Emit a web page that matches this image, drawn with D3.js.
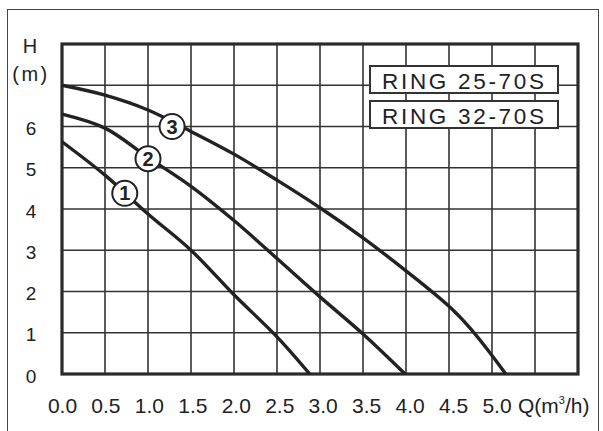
<!DOCTYPE html>
<html><head><meta charset="utf-8">
<script src="https://cdn.jsdelivr.net/npm/d3@7"></script>
<style>body{margin:0;background:#fff}svg{display:block}text{font-family:"Liberation Sans",Arial,sans-serif;fill:#222}</style>
</head><body><svg id="c" width="603" height="431"></svg>
<script>
const xTicks = ["0.0","0.5","1.0","1.5","2.0","2.5","3.0","3.5","4.0","4.5","5.0"];
const yTicks = ["0","1","2","3","4","5","6"];
const legendLabels = ["RING 25-70S","RING 32-70S"];
const curve1Q = [0,0.5,1.0,1.5,2.0,2.5,2.88];
const curve1H = [5.63,4.82,3.88,3.0,1.92,0.9,0];
const curve2Q = [0,0.5,1.0,1.5,2.0,2.5,3.0,3.5,3.99];
const curve2H = [6.3,5.96,5.25,4.55,3.72,2.8,1.87,0.97,0];
const curve3Q = [0,0.5,1.0,1.5,2.0,2.5,3.0,3.5,4.0,4.5,4.75,5.0,5.16];
const curve3H = [7.0,6.76,6.4,5.88,5.33,4.7,4.03,3.3,2.5,1.64,1.1,0.45,0];
const curveNames = ["1","2","3"];
const labelQ = [0.73,1.00,1.28];
const labelH = [4.38,5.22,6.0];

const svg = d3.select("#c");
const x = d3.scaleLinear().domain([0,6]).range([62,578]);
const y = d3.scaleLinear().domain([0,8]).range([374,44]);

// outer frame
svg.append("rect").attr("x",7.5).attr("y",9.5).attr("width",591).attr("height",430)
  .attr("fill","none").attr("stroke","#444").attr("stroke-width",1);

// grid
const g = svg.append("g");
d3.range(1,12).forEach(i=>{
  const q=i*0.5;
  g.append("line").attr("x1",x(q)).attr("x2",x(q)).attr("y1",y(0)).attr("y2",y(8))
    .attr("stroke","#333").attr("stroke-width",1.6);
});
d3.range(1,8).forEach(h=>{
  g.append("line").attr("x1",x(0)).attr("x2",x(6)).attr("y1",y(h)).attr("y2",y(h))
    .attr("stroke","#333").attr("stroke-width",1.6);
});
g.append("rect").attr("x",x(0)).attr("y",y(8)).attr("width",x(6)-x(0)).attr("height",y(0)-y(8))
  .attr("fill","none").attr("stroke","#2a2a2a").attr("stroke-width",3.2);

// legend boxes
legendLabels.forEach((t,i)=>{
  const by = 66 + i*35;
  svg.append("rect").attr("x",370).attr("y",by).attr("width",188).attr("height",27)
    .attr("fill","#fff").attr("stroke","#333").attr("stroke-width",2);
  svg.append("text").attr("x",382).attr("y",by+22.5).attr("font-size",22.5)
    .attr("textLength",162).attr("lengthAdjust","spacing").text(t);
});

// curves
const line = d3.line().x(d=>x(d[0])).y(d=>y(d[1])).curve(d3.curveCatmullRom.alpha(0.5));
[[curve1Q,curve1H],[curve2Q,curve2H],[curve3Q,curve3H]].forEach(([qs,hs])=>{
  svg.append("path").datum(qs.map((q,i)=>[q,hs[i]])).attr("d",line)
    .attr("fill","none").attr("stroke","#222").attr("stroke-width",3.4);
});

// curve labels
curveNames.forEach((n,i)=>{
  const cx=x(labelQ[i]), cy=y(labelH[i]);
  svg.append("circle").attr("cx",cx).attr("cy",cy).attr("r",12.5)
    .attr("fill","#fff").attr("stroke","#222").attr("stroke-width",2);
  svg.append("text").attr("x",cx).attr("y",cy+7).attr("text-anchor","middle")
    .attr("font-size",20).attr("font-weight","bold").text(n);
});

// y ticks
yTicks.forEach(t=>{
  svg.append("text").attr("x",31).attr("y",y(+t)+8.5).attr("text-anchor","middle")
    .attr("font-size",19).text(t);
});
svg.append("text").attr("x",30).attr("y",53).attr("text-anchor","middle").attr("font-size",20).text("H");
svg.append("text").attr("x",31).attr("y",81).attr("text-anchor","middle").attr("font-size",20)
  .attr("letter-spacing",2.5).text("(m)");

// x ticks
xTicks.forEach((t,i)=>{
  svg.append("text").attr("x",x(+t)+0.45*i+0.5).attr("y",413).attr("text-anchor","middle")
    .attr("font-size",21).text(t);
});
const ql = svg.append("text").attr("x",518).attr("y",413).attr("font-size",21);
ql.append("tspan").text("Q(m");
ql.append("tspan").attr("font-size",11).attr("dy",-9).text("3");
ql.append("tspan").attr("dy",9).text("/h)");
</script></body></html>
